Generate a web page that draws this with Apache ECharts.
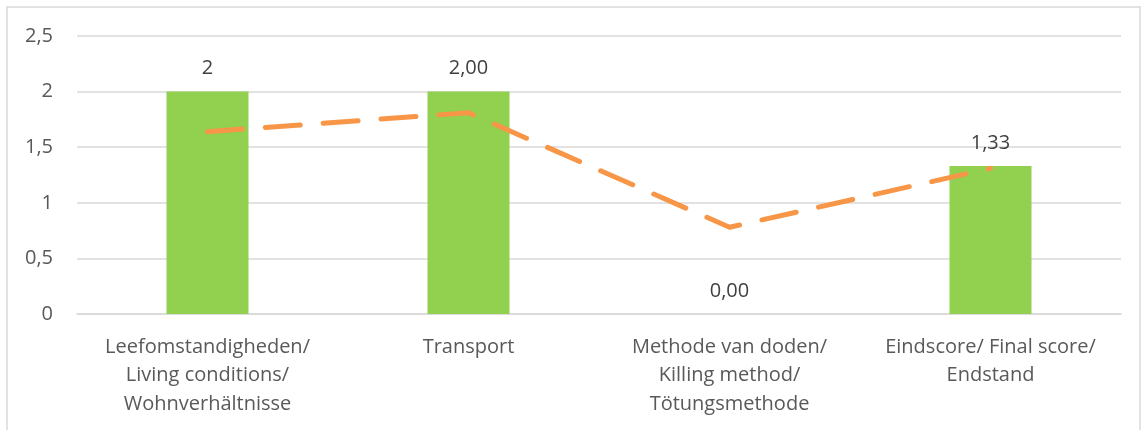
<!DOCTYPE html>
<html>
<head>
<meta charset="utf-8">
<script src="https://cdn.jsdelivr.net/npm/echarts@6/dist/echarts.min.js"></script>
<style>
  html, body { margin: 0; padding: 0; background: #fff; }
  #main { width: 1143px; height: 430px; }
</style>
</head>
<body>
<div id="main"></div>
<script>
var categories = [
  'Leefomstandigheden/\nLiving conditions/\nWohnverhältnisse',
  'Transport',
  'Methode van doden/\nKilling method/\nTötungsmethode',
  'Eindscore/ Final score/\nEndstand'
];
var barValues = [2, 2, 0, 1.33];
var barLabels = ['2', '2,00', '0,00', '1,33'];
var lineValues = [1.64, 1.81, 0.78, 1.31];
var yTicks = ['0', '0,5', '1', '1,5', '2', '2,5'];

var chart = echarts.init(document.getElementById('main'));
var font = '"Open Sans", sans-serif';

var option = {
  backgroundColor: '#fff',
  animation: false,
  graphic: [{
    type: 'rect',
    shape: { x: 7, y: 7, width: 1133, height: 440 },
    style: { fill: 'none', stroke: '#d9d9d9', lineWidth: 1.5 },
    silent: true
  }],
  grid: {
    left: 77,
    right: 22,
    top: 36,
    bottom: 116
  },
  xAxis: {
    type: 'category',
    data: categories,
    axisLine: { lineStyle: { color: '#d9d9d9', width: 1.5 } },
    axisTick: { show: false },
    axisLabel: {
      color: '#595959',
      fontFamily: font,
      fontSize: 20,
      lineHeight: 28.5,
      margin: 19,
      interval: 0
    }
  },
  yAxis: {
    type: 'value',
    min: 0,
    max: 2.5,
    interval: 0.5,
    axisLine: { show: false },
    axisTick: { show: false },
    splitLine: { lineStyle: { color: '#d9d9d9', width: 1.5 } },
    axisLabel: {
      color: '#595959',
      fontFamily: font,
      fontSize: 20,
      margin: 24,
      formatter: function (v) {
        return yTicks[Math.round(v / 0.5)];
      }
    }
  },
  series: [{
    type: 'bar',
    data: barValues,
    barWidth: 82,
    itemStyle: { color: '#92d050' },
    label: {
      show: true,
      position: 'top',
      distance: 13,
      color: '#404040',
      fontFamily: font,
      fontSize: 20,
      formatter: function (p) {
        return barLabels[p.dataIndex];
      }
    }
  }, {
    type: 'line',
    data: lineValues,
    showSymbol: false,
    symbol: 'none',
    lineStyle: {
      color: '#f79646',
      width: 5,
      type: [35, 23],
      cap: 'round',
      join: 'round'
    },
    z: 3
  }]
};

chart.setOption(option);
</script>
</body>
</html>
